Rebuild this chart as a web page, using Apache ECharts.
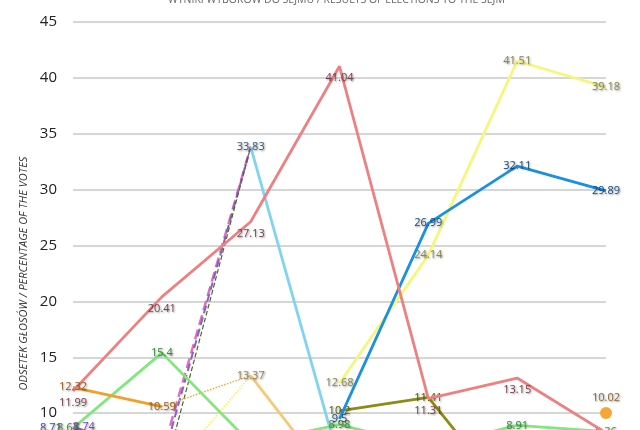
<!DOCTYPE html>
<html>
<head>
<meta charset="utf-8">
<script src="https://cdn.jsdelivr.net/npm/echarts@6/dist/echarts.min.js"></script>
<style>
  html, body { margin: 0; padding: 0; background: #fff; }
  #chart { width: 640px; height: 430px; }
</style>
</head>
<body>
<div id="chart"></div>
<script>
// lata wyborów
const years = ["1991", "1993", "1997", "2001", "2005", "2007", "2011"];
const yTicks = [0, 5, 10, 15, 20, 25, 30, 35, 40, 45];

const sld = [11.99, 20.41, 27.13, 41.04, 11.31, 13.15, 8.24];
const ud = [12.32, 10.59, null, null, null, null, null];
const udToUw = [null, 10.59, 13.37, null, null, null, null];
const uw = [null, null, 13.37, 3.1, null, null, null];
const kld = [7.49, 4.0, null, null, null, null, null];
const kldToUw = [null, 4.0, 13.37, null, null, null, null];
const aws = [null, null, 33.83, 5.6, null, null, null];
const psl = [8.67, 15.4, 7.31, 8.98, 6.96, 8.91, 8.36];
const wak = [8.74, 6.3, null, null, null, null, null];
const poc = [8.71, 4.4, null, null, null, null, null];
const toAwsPink = [null, 6.3, 33.83, null, null, null, null];
const toAwsPurple = [null, 5.5, 33.83, null, null, null, null];
const toAwsGreen = [null, 3.8, 33.83, null, null, null, null];
const samoobrona = [null, null, null, 10.2, 11.41, 1.53, null];
const lpr = [null, null, null, 7.87, 7.97, 1.3, null];
const pis = [null, null, null, 9.5, 26.99, 32.11, 29.89];
const po = [null, null, null, 12.68, 24.14, 41.51, 39.18];
const palikot = [null, null, null, null, null, null, 10.02];

const chart = echarts.init(document.getElementById("chart"));

// wspólny styl etykiet z cieniem
const lbl = (color, extra = {}) => ({
  show: true,
  position: "inside",
  color: color,
  fontFamily: "Open Sans",
  fontSize: 11,
  textShadowColor: "rgba(0,0,0,0.45)",
  textShadowBlur: 2,
  textShadowOffsetX: 1,
  textShadowOffsetY: 1,
  ...extra,
});

const line = (name, data, color, opts = {}) => ({
  name: name,
  type: "line",
  data: data,
  // niewidoczny symbol, żeby etykiety się rysowały
  symbol: "circle",
  symbolSize: 0.1,
  showSymbol: !!opts.label,
  connectNulls: false,
  lineStyle: { color: color, width: opts.width || 2.8, type: opts.type || "solid" },
  itemStyle: { color: color },
  label: opts.label || { show: false },
  labelLayout: { hideOverlap: false, dx: opts.dx || 0, dy: opts.dy || 0 },
  z: opts.z || 2,
});

// etykiety tylko dla wybranych punktów
const only = (data, idx) => data.map((v, i) => (idx.includes(i) ? v : { value: v, label: { show: false } }));

const option = {
  animation: false,
  title: {
    text: "WYNIKI WYBORÓW DO SEJMU / RESULTS OF ELECTIONS TO THE SEJM",
    left: 163,
    top: -10,
    textStyle: { fontFamily: "Open Sans", fontSize: 10.5, fontWeight: "normal", color: "#666" },
  },
  grid: { left: 73, right: 34, top: 22, bottom: -95, outerBoundsMode: "none" },
  xAxis: {
    type: "category",
    data: years,
    boundaryGap: false,
    axisLine: { show: false },
    axisTick: { show: false },
    axisLabel: { show: false },
  },
  yAxis: {
    type: "value",
    min: yTicks[0],
    max: yTicks[yTicks.length - 1],
    interval: 5,
    name: "ODSETEK GŁOSÓW / PERCENTAGE OF THE VOTES",
    nameLocation: "middle",
    nameGap: 42,
    nameTextStyle: { fontFamily: "Open Sans", fontStyle: "italic", fontSize: 11, color: "#333" },
    axisLine: { show: false },
    axisTick: { show: false },
    axisLabel: { fontFamily: "Open Sans", fontSize: 15, color: "#222", margin: 16 },
    splitLine: { lineStyle: { color: "#c8c8c8", width: 1.5 } },
  },
  series: [
    line("KLD", kld, "#f4f47a"),
    line("KLD-UW", kldToUw, "#f0f060", { type: "dotted", width: 1.5 }),
    line("POC", only(poc, [0]), "#6a6ad0", { label: lbl("#4a4aa0"), dx: -22 }),
    line("WAK", only(wak, [0]), "#9a6ad8", { label: lbl("#7a4ab0"), dx: 11 }),
    line("do AWS 1", toAwsPink, "#e070b8", { type: "dashed", width: 2.5 }),
    line("do AWS 2", toAwsPurple, "#8a60c8", { type: "dashed", width: 2 }),
    line("do AWS 3", toAwsGreen, "#4a6a2a", { type: "dashed", width: 1.2 }),
    line("UD-UW", udToUw, "#f0a840", { type: "dotted", width: 1.5 }),
    line("UW", only(uw, [2]), "#f6c878", { label: lbl("#9a8050") }),
    line("UD", ud, "#f2a02a", { label: lbl("#9a6020"), z: 3 }),
    line("AWS", only(aws, [2]), "#80d4f2", { label: lbl("#3a5a72") }),
    line("PSL", only(psl, [1, 2, 3, 4, 5, 6]), "#80e87c", { label: lbl("#3a8a3a") }),
    line("PSL 1991", only([8.67, null, null, null, null, null, null], [0]), "#80e87c", { label: lbl("#3a8a3a"), dx: -5 }),
    line("LPR", lpr, "#6a8ad0"),
    line("Samoobrona", samoobrona, "#8c8c10", { label: lbl("#5a5a10") }),
    line("PO", po, "#f6f67c", { label: lbl("#8a8a50") }),
    line("PiS", pis, "#1a90e2", { label: lbl("#1a4a7a"), z: 3 }),
    line("SLD", sld, "#ee8080", { label: lbl("#7a4050"), dy: 12, z: 3 }),
    {
      name: "Ruch Palikota",
      type: "line",
      data: palikot,
      symbol: "circle",
      symbolSize: 12,
      showSymbol: true,
      itemStyle: { color: "#f5a634" },
      label: lbl("#8a6a3a", { position: "top", distance: 4 }),
      z: 4,
    },
  ],
};
chart.setOption(option);
</script>
</body>
</html>
